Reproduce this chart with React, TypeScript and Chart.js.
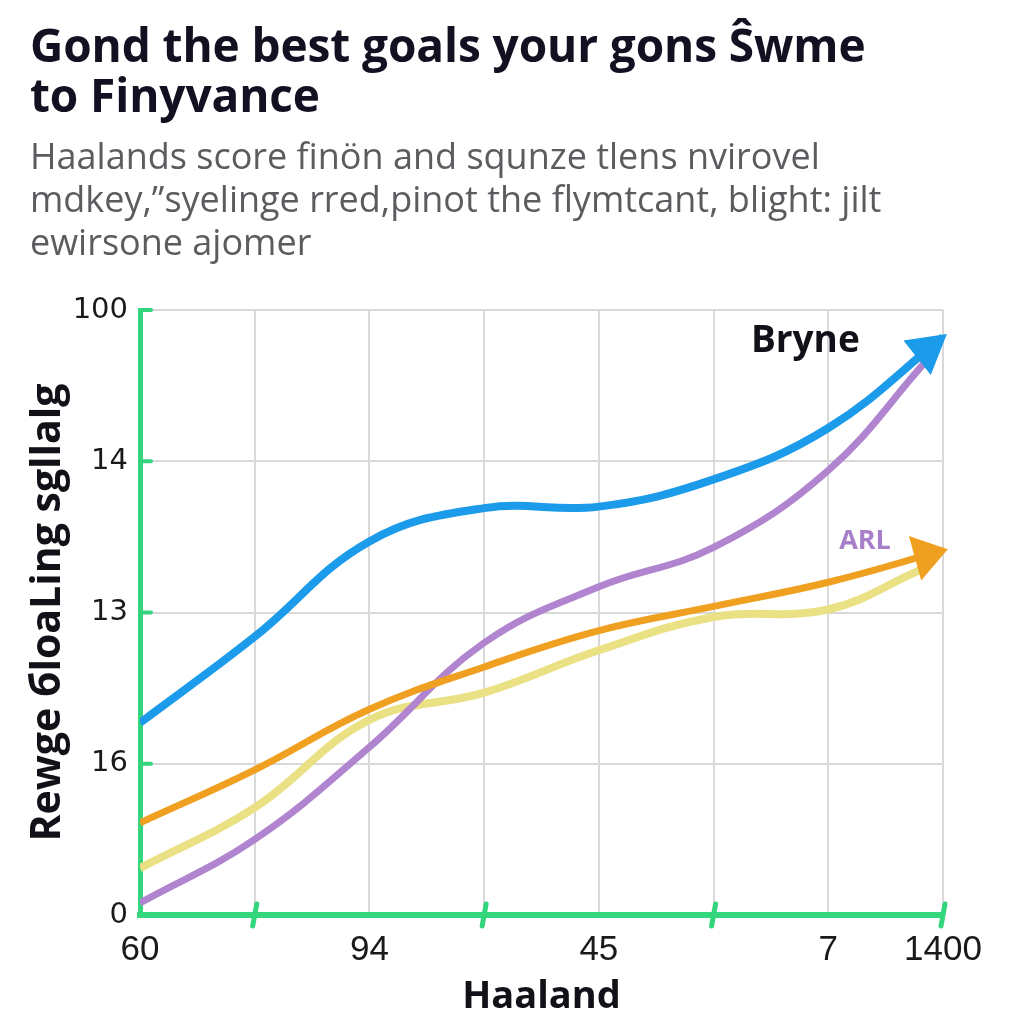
import React, { useEffect, useRef } from "react";
import { Chart, registerables } from "chart.js";

Chart.register(...registerables);

// ---------- text ----------
const titleLines = ["Gond the best goals your gons Ŝwme", "to Finyvance"];
const subtitleLines = [
  "Haalands score finön and squnze tlens nvirovel",
  "mdkey,\u201dsyelinge rred,pinot the flymtcant, blight: jilt",
  "ewirsone ajomer",
];
const yAxisTitle = "Rewge бloaLing sgllalg";
const xAxisTitle = "Haaland";

// ---------- axes ----------
const xTickLabels = ["60", "", "94", "", "45", "", "7", "1400"];
const yTickLabels = ["0", "16", "13", "14", "100"];
const bottomTickMarks = [1, 3, 5, 7];

// ---------- series ----------
const blueX = [0, 1, 2, 3, 4, 5, 6, 7];
const blueValues = [1.27, 1.84, 2.47, 2.69, 2.7, 2.88, 3.22, 3.82];

const orangeX = [0, 1, 2, 3, 4, 5, 6, 7];
const orangeValues = [0.61, 0.96, 1.36, 1.64, 1.88, 2.04, 2.2, 2.41];

const purpleX = [0, 1, 2, 3, 4, 5, 6, 6.85];
const purpleValues = [0.08, 0.5, 1.11, 1.8, 2.17, 2.43, 2.94, 3.66];

const yellowX = [0, 1, 2, 3, 4, 5, 6, 6.8];
const yellowValues = [0.31, 0.71, 1.29, 1.47, 1.75, 1.97, 2.02, 2.28];

// annotation labels (anchored in data units)
const brynePos = { x: 5.8, y: 3.72 };
const arlPos = { x: 6.32, y: 2.42 };

const GREEN = "rgb(52,214,125)";
const BLUE = "rgb(28,155,235)";
const ORANGE = "rgb(240,160,32)";
const PURPLE = "rgb(176,132,206)";
const YELLOW = "rgb(234,224,132)";

const toPoints = (xs: number[], ys: number[]) => xs.map((x, i) => ({ x, y: ys[i] }));

const decorPlugin = {
  id: "decor",
  afterDatasetsDraw(chart: any) {
    const ctx = chart.ctx as CanvasRenderingContext2D;
    const { left, bottom } = chart.chartArea;
    const xs = chart.scales.x;
    const ys = chart.scales.y;
    ctx.save();
    ctx.strokeStyle = GREEN;
    ctx.lineCap = "round";
    ctx.lineWidth = 4;
    for (let v = 0; v < yTickLabels.length; v++) {
      const y = ys.getPixelForValue(v);
      ctx.beginPath();
      ctx.moveTo(left, y);
      ctx.lineTo(left + 11, y);
      ctx.stroke();
    }
    ctx.lineWidth = 5;
    for (const v of bottomTickMarks) {
      const x = xs.getPixelForValue(v);
      ctx.beginPath();
      ctx.moveTo(x - 2, bottom + 11);
      ctx.lineTo(x + 2, bottom - 11);
      ctx.stroke();
    }

    // arrowheads
    chart.data.datasets.forEach((ds: any, i: number) => {
      if (!ds.arrow) return;
      const meta = chart.getDatasetMeta(i);
      const pts = meta.data;
      const last = pts[pts.length - 1];
      const prev = pts[pts.length - 2];
      const cx = last.cp1x !== undefined ? last.cp1x : prev.x;
      const cy = last.cp1y !== undefined ? last.cp1y : prev.y;
      const ang = Math.atan2(last.y - cy, last.x - cx);
      const tipX = last.x + Math.cos(ang) * 5;
      const tipY = last.y + Math.sin(ang) * 5;
      const len = ds.arrow.len;
      const hw = ds.arrow.hw;
      const bx = tipX - Math.cos(ang) * len;
      const by = tipY - Math.sin(ang) * len;
      ctx.fillStyle = ds.borderColor;
      ctx.beginPath();
      ctx.moveTo(tipX, tipY);
      ctx.lineTo(bx - Math.sin(ang) * hw, by + Math.cos(ang) * hw);
      ctx.lineTo(bx + Math.sin(ang) * hw, by - Math.cos(ang) * hw);
      ctx.closePath();
      ctx.fill();
    });

    // labels
    ctx.textAlign = "center";
    ctx.textBaseline = "alphabetic";
    ctx.fillStyle = "#111118";
    ctx.font = "bold 37px 'Open Sans'";
    ctx.fillText("Bryne", xs.getPixelForValue(brynePos.x), ys.getPixelForValue(brynePos.y));
    ctx.fillStyle = "rgb(168,127,201)";
    ctx.font = "bold 27px 'Open Sans'";
    ctx.fillText("ARL", xs.getPixelForValue(arlPos.x), ys.getPixelForValue(arlPos.y));
    ctx.restore();
  },
};

export default function App() {
  const canvasRef = useRef<HTMLCanvasElement | null>(null);

  useEffect(() => {
    const canvas = canvasRef.current;
    if (!canvas) return;
    const chart = new Chart(canvas, {
      type: "line",
      data: {
        datasets: [
          {
            label: "Blue",
            data: toPoints(blueX, blueValues),
            borderColor: BLUE,
            borderWidth: 8,
            tension: 0.4,
            pointRadius: 0,
            arrow: { len: 38, hw: 22 },
          } as any,
          {
            label: "Orange",
            data: toPoints(orangeX, orangeValues),
            borderColor: ORANGE,
            borderWidth: 7,
            tension: 0.4,
            pointRadius: 0,
            arrow: { len: 34, hw: 23 },
          } as any,
          {
            label: "Purple",
            data: toPoints(purpleX, purpleValues),
            borderColor: PURPLE,
            borderWidth: 7,
            tension: 0.4,
            pointRadius: 0,
          },
          {
            label: "Yellow",
            data: toPoints(yellowX, yellowValues),
            borderColor: YELLOW,
            borderWidth: 8,
            tension: 0.4,
            pointRadius: 0,
          },
        ],
      },
      options: {
        animation: false,
        responsive: false,
        devicePixelRatio: 1,
        layout: { padding: { left: 10, top: 310, right: 81, bottom: 0 } },
        plugins: { legend: { display: false }, tooltip: { enabled: false }, title: { display: false } },
        scales: {
          x: {
            type: "linear",
            min: 0,
            max: 7,
            afterFit: (s: any) => {
              s.height = 109;
            },
            grid: { color: "#d9d9d9", lineWidth: 2, drawTicks: false },
            border: { color: GREEN, width: 6 },
            ticks: {
              stepSize: 1,
              autoSkip: false,
              maxRotation: 0,
              padding: 14,
              color: "#1a1a1a",
              font: { family: "'Liberation Sans'", size: 35 },
              callback: (v: any) => xTickLabels[v] ?? "",
            },
            title: {
              display: true,
              text: xAxisTitle,
              color: "#111118",
              font: { family: "'Open Sans'", size: 38, weight: "bold" },
              padding: { top: 0, bottom: 4 },
            },
          },
          y: {
            type: "linear",
            min: 0,
            max: 4,
            afterFit: (s: any) => {
              s.width = 130;
            },
            grid: { color: "#d9d9d9", lineWidth: 2, drawTicks: false },
            border: { color: GREEN, width: 5 },
            ticks: {
              stepSize: 1,
              padding: 12,
              color: "#1a1a1a",
              font: { family: "'DejaVu Sans'", size: 29 },
              callback: (v: any) => yTickLabels[v] ?? "",
            },
            title: {
              display: true,
              text: yAxisTitle,
              color: "#111118",
              font: { family: "'Open Sans'", size: 41, weight: "bold" },
              padding: { top: 14, bottom: 0 },
            },
          },
        },
      } as any,
      plugins: [decorPlugin],
    });
    return () => chart.destroy();
  }, []);

  return (
    <div
      style={{
        position: "absolute",
        left: 0,
        top: 0,
        width: 1024,
        height: 1024,
        background: "#ffffff",
        overflow: "hidden",
      }}
    >
      <canvas
        ref={canvasRef}
        width={1024}
        height={1024}
        style={{ position: "absolute", left: 0, top: 0, width: 1024, height: 1024 }}
      />
      <div
        style={{
          position: "absolute",
          left: 30,
          top: 19,
          fontFamily: "'Open Sans', sans-serif",
          fontWeight: 700,
          fontSize: 46,
          lineHeight: "50px",
          color: "#111122",
          whiteSpace: "nowrap",
          letterSpacing: -0.1,
        }}
      >
        {titleLines.map((l, i) => (
          <div key={i}>{l}</div>
        ))}
      </div>
      <div
        style={{
          position: "absolute",
          left: 30,
          top: 134,
          fontFamily: "'Open Sans', sans-serif",
          fontWeight: 400,
          fontSize: 36,
          lineHeight: "43px",
          color: "#5b5b60",
          whiteSpace: "nowrap",
          letterSpacing: 0,
        }}
      >
        {subtitleLines.map((l, i) => (
          <div key={i}>{l}</div>
        ))}
      </div>
    </div>
  );
}
